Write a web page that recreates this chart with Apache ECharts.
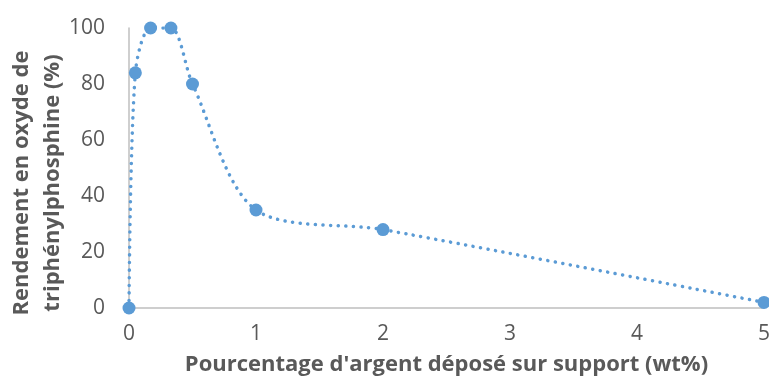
<!DOCTYPE html>
<html><head><meta charset="utf-8">
<script src="https://cdn.jsdelivr.net/npm/echarts@6/dist/echarts.min.js"></script>
<style>html,body{margin:0;padding:0;background:#fff}#c{width:769px;height:376px}</style>
</head><body><div id="c"></div>
<script>
const xValues = [0, 0.05, 0.17, 0.33, 0.5, 1, 2, 5];
const yValues = [0, 84, 100, 100, 80, 35, 28, 2];
const xTitle = "Pourcentage d'argent déposé sur support (wt%)";
const yTitle = "Rendement en oxyde de\ntriphénylphosphine (%)";
const data = xValues.map((x, i) => [x, yValues[i]]);
const chart = echarts.init(document.getElementById('c'));
const font = "'Open Sans', sans-serif";
chart.setOption({
  animation: false,
  grid: {left: 129, right: 5, top: 28, bottom: 68, containLabel: false, outerBoundsMode: 'none'},
  xAxis: {
    type: 'value', min: 0, max: 5, interval: 1,
    axisLine: {show: true, lineStyle: {color: '#bfbfbf', width: 1.5}},
    axisTick: {show: false}, splitLine: {show: false},
    axisLabel: {color: '#595959', fontSize: 21, fontFamily: font, margin: 16},
    name: xTitle, nameLocation: 'middle', nameGap: 46, nameMoveOverlap: false,
    nameTextStyle: {color: '#595959', fontSize: 22, fontWeight: 'bold', fontFamily: font}
  },
  yAxis: {
    type: 'value', min: 0, max: 100, interval: 20,
    axisLine: {show: true, onZero: false, lineStyle: {color: '#bfbfbf', width: 1.5}},
    axisTick: {show: false}, splitLine: {show: false},
    axisLabel: {color: '#595959', fontSize: 21, fontFamily: font, margin: 24},
    name: yTitle, nameLocation: 'middle', nameGap: 61, nameRotate: 90, nameMoveOverlap: false,
    nameTextStyle: {color: '#595959', fontSize: 22, fontWeight: 'bold', fontFamily: font, lineHeight: 31, padding: [0, 30, 0, 0]}
  },
  series: [{
    type: 'line', data: data, smooth: 0.3,
    symbol: 'circle', symbolSize: 13,
    itemStyle: {color: '#5b9bd5'},
    lineStyle: {color: '#5b9bd5', width: 3.5, type: [0.1, 7.5], cap: 'round'}
  }]
});
</script></body></html>
